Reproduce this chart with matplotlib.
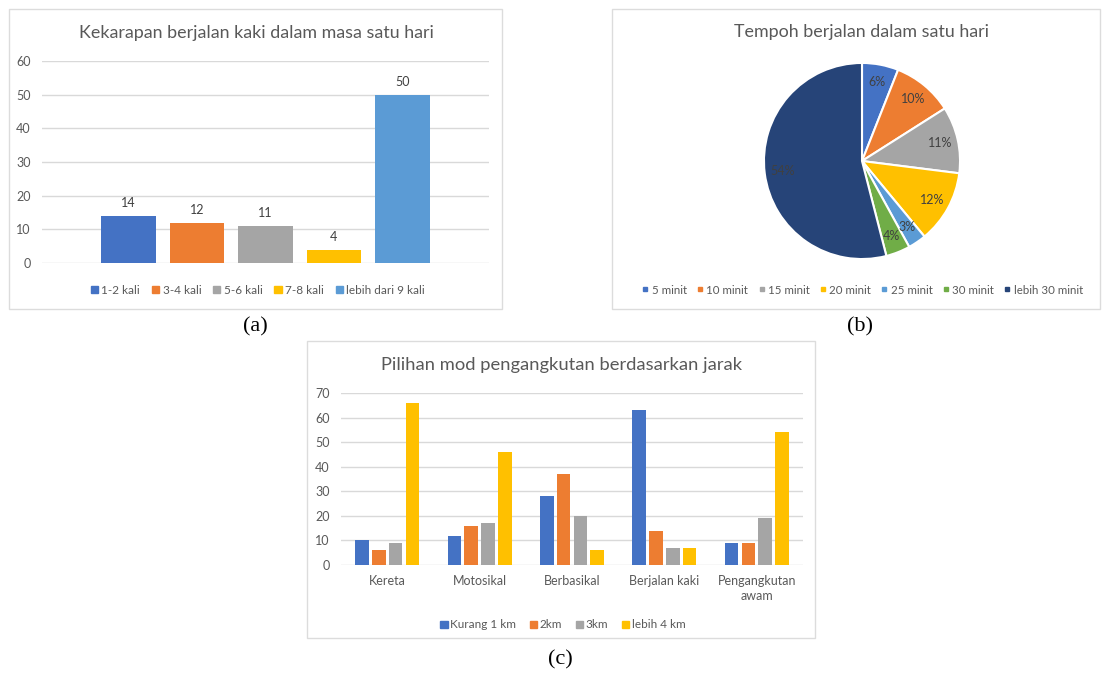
import matplotlib
matplotlib.use("Agg")
import matplotlib.pyplot as plt
from matplotlib.patches import Patch, Rectangle
from matplotlib.lines import Line2D
import numpy as np

# ---- data ----
freq_labels = ["1-2 kali", "3-4 kali", "5-6 kali", "7-8 kali", "lebih dari 9 kali"]
freq_values = [14, 12, 11, 4, 50]

dur_labels = ["5 minit", "10 minit", "15 minit", "20 minit", "25 minit", "30 minit", "lebih 30 minit"]
dur_values = [6, 10, 11, 12, 3, 4, 54]

mode_categories = ["Kereta", "Motosikal", "Berbasikal", "Berjalan kaki", "Pengangkutan\nawam"]
dist_labels = ["Kurang 1 km", "2km", "3km", "lebih 4 km"]
dist_kurang1 = [10, 12, 28, 63, 9]
dist_2km = [6, 16, 37, 14, 9]
dist_3km = [9, 17, 20, 7, 19]
dist_lebih4 = [66, 46, 6, 7, 54]

# ---- style ----
W, H = 1102, 677
FONT = "Lato"
TXT = "#595959"
GRID = "#D9D9D9"
BLUE, ORANGE, GRAY, GOLD = "#4472C4", "#ED7D31", "#A5A5A5", "#FFC000"
LBLUE, GREEN, NAVY = "#5B9BD5", "#70AD47", "#264478"
freq_colors = [BLUE, ORANGE, GRAY, GOLD, LBLUE]
dur_colors = [BLUE, ORANGE, GRAY, GOLD, LBLUE, GREEN, NAVY]
dist_colors = [BLUE, ORANGE, GRAY, GOLD]

plt.rcParams["font.family"] = [FONT, "DejaVu Sans"]

fig = plt.figure(figsize=(W / 100, H / 100), dpi=100)
fig.patch.set_facecolor("white")


def box(x0, y0, x1, y1):
    """Pixel box (top-left origin) -> figure fraction rect."""
    return [x0 / W, 1 - y1 / H, (x1 - x0) / W, (y1 - y0) / H]


def frame(x0, y0, x1, y1):
    fig.patches.append(Rectangle((x0 / W, 1 - y1 / H), (x1 - x0) / W, (y1 - y0) / H,
                                 transform=fig.transFigure, fill=False,
                                 edgecolor="#DCDCDC", linewidth=1.0))


def px(x, y):
    return x / W, 1 - y / H


def style_value_axis(ax, ymax, step):
    ax.set_ylim(0, ymax)
    ax.set_yticks(np.arange(0, ymax + 1, step))
    for s in ax.spines.values():
        s.set_visible(False)
    ax.grid(axis="y", color=GRID, linewidth=1.0)
    ax.set_axisbelow(True)
    ax.tick_params(axis="y", length=0, pad=8, labelsize=9, labelcolor=TXT)


# ---- panel frames ----
frame(9, 9, 502, 309)
frame(612, 9, 1100, 309)
frame(307, 341, 815, 638)

# ---- (a) frequency bar chart: one category, five series ----
axa = fig.add_axes(box(42, 61, 489, 263))
style_value_axis(axa, 60, 10)
axa.set_xlim(-0.5, 0.5)
axa.set_xticks([])
step_a = 0.1532
n = len(freq_values)
xa = (np.arange(n) - (n - 1) / 2) * step_a
bars_a = axa.bar(xa, freq_values, width=step_a * 0.8, color=freq_colors)
for b, v in zip(bars_a, freq_values):
    axa.annotate(str(v), (b.get_x() + b.get_width() / 2, v), xytext=(0, 5),
                 textcoords="offset points", ha="center", va="bottom",
                 fontsize=9, color="#404040")
fig.text(*px(256, 33), "Kekarapan berjalan kaki dalam masa satu hari",
         ha="center", va="center", fontsize=12.9, color=TXT)
fig.legend([Patch(color=c) for c in freq_colors], freq_labels,
           loc="center", bbox_to_anchor=px(258, 290), ncol=5, frameon=False,
           fontsize=8.5, labelcolor=TXT, handlelength=0.6, handleheight=0.6,
           handletextpad=0.3, columnspacing=1.0)

# ---- (b) duration pie ----
axb = fig.add_axes(box(762, 61, 962, 261))
wedges, _, autotexts = axb.pie(
    dur_values, colors=dur_colors, startangle=90, counterclock=False,
    autopct=lambda p: f"{p:.0f}%", pctdistance=0.82,
    wedgeprops=dict(edgecolor="white", linewidth=1.5),
    textprops=dict(fontsize=9, color="#404040"))
axb.set_xlim(-1.02, 1.02)
axb.set_ylim(-1.02, 1.02)
axb.set_aspect("equal")
fig.text(*px(862, 32), "Tempoh berjalan dalam satu hari",
         ha="center", va="center", fontsize=12.9, color=TXT)
fig.legend([Line2D([], [], marker="s", linestyle="none", color=c, markersize=3.5)
            for c in dur_colors], dur_labels,
           loc="center", bbox_to_anchor=px(863, 290), ncol=7, frameon=False,
           fontsize=8.3, labelcolor=TXT, handlelength=0.4,
           handletextpad=0.35, columnspacing=0.95)

# ---- (c) transport mode by distance ----
axc = fig.add_axes(box(341, 393, 803, 565))
style_value_axis(axc, 70, 10)
axc.set_xlim(-0.5, len(mode_categories) - 0.5)
step_c = 0.182
series = [dist_kurang1, dist_2km, dist_3km, dist_lebih4]
k = len(series)
xc = np.arange(len(mode_categories))
for i, (vals, col) in enumerate(zip(series, dist_colors)):
    axc.bar(xc + (i - (k - 1) / 2) * step_c, vals, width=step_c * 0.8, color=col)
axc.set_xticks(xc)
axc.set_xticklabels(mode_categories, fontsize=9, color=TXT, linespacing=1.3)
axc.tick_params(axis="x", length=0, pad=7)
fig.text(*px(562, 365), "Pilihan mod pengangkutan berdasarkan jarak",
         ha="center", va="center", fontsize=13.2, color=TXT)
fig.legend([Patch(color=c) for c in dist_colors], dist_labels,
           loc="center", bbox_to_anchor=px(563, 625), ncol=4, frameon=False,
           fontsize=8.5, labelcolor=TXT, handlelength=0.6, handleheight=0.6,
           handletextpad=0.2, columnspacing=1.2)

# ---- panel captions ----
for (x, y), t in [((255, 327), "(a)"), ((860, 327), "(b)"), ((560, 660), "(c)")]:
    fig.text(*px(x, y), t, ha="center", va="center", fontsize=16,
             family=["Liberation Serif", "DejaVu Serif"], color="black")

fig.savefig("out.png", dpi=100, facecolor="white")
